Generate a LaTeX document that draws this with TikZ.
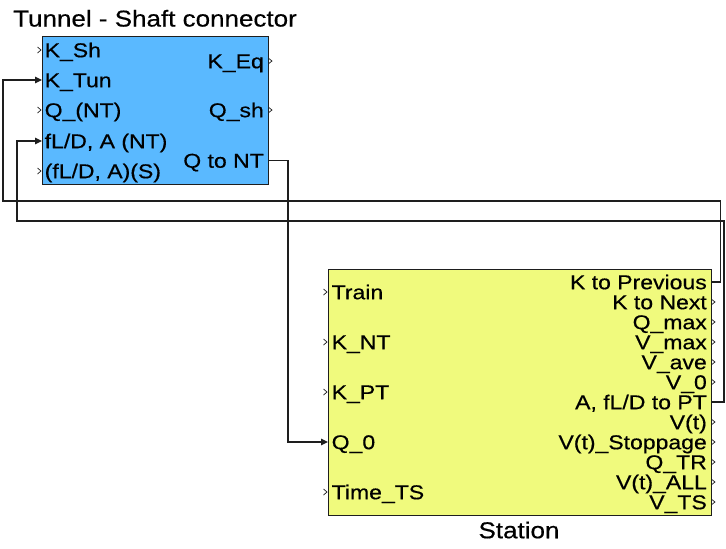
\documentclass[tikz,border=0pt]{standalone}
\usepackage{fontspec}
\setmainfont{Liberation Sans}
\newfontfamily\portfont[FakeStretch=1.15,FakeBold=0.5]{Liberation Sans}
\newfontfamily\namefont[FakeStretch=1.13,FakeBold=0.5]{Liberation Sans}
\usetikzlibrary{arrows.meta,calc}
\definecolor{blockblue}{RGB}{90,185,255}
\definecolor{blockyellow}{RGB}{240,250,125}
\definecolor{wire}{RGB}{30,30,30}
\begin{document}
\begin{tikzpicture}[x=1pt,y=-1pt,
  blockbox/.style={draw=wire, line width=1.3pt, inner sep=0pt, anchor=north west},
  plabel/.style={font=\portfont\fontsize{20}{24}\selectfont, inner sep=0pt, text height=14.4pt, text depth=0pt},
  nlabel/.style={font=\namefont\fontsize{23}{27}\selectfont, inner sep=0pt, text height=16.5pt, text depth=0pt},
  wireline/.style={draw=wire, line width=1.3pt},
  feed/.style={wireline, -{Triangle[length=7pt,width=6.5pt]}},
  openport/.style={draw=wire, line width=0.7pt}
]
\fill[white] (0,0) rectangle (726,549);
\path[use as bounding box] (0,0) rectangle (726,549);

% ---------- Tunnel - Shaft connector ----------
\node[blockbox, fill=blockblue, minimum width=226pt, minimum height=148pt] (tsc) at (42,36) {};
\node[nlabel] (tsctitle) at (155,18.3) {Tunnel - Shaft connector};

\coordinate (tscKSh)  at (42,50);
\coordinate (tscKTun) at (42,80);
\coordinate (tscQNT)  at (42,110);
\coordinate (tscfLD)  at (42,141);
\coordinate (tscfLDS) at (42,171);
\coordinate (tscKEq)  at (268,61);
\coordinate (tscQsh)  at (268,110);
\coordinate (tscQtoNT) at (268,160.5);

\node[plabel, anchor=west] (lKSh)  at (44.5,50)  {K\_Sh};
\node[plabel, anchor=west] (lKTun) at (44.5,80)  {K\_Tun};
\node[plabel, anchor=west] (lQNT)  at (44.5,110) {Q\_(NT)};
\node[plabel, anchor=west] (lfLD)  at (44.5,141) {fL/D, A (NT)};
\node[plabel, anchor=west] (lfLDS) at (44.5,171) {(fL/D, A)(S)};
\node[plabel, anchor=east] (lKEq)  at (264,61)   {K\_Eq};
\node[plabel, anchor=east] (lQsh)  at (264,110)  {Q\_sh};
\node[plabel, anchor=east] (lQtoNT) at (264,160.5) {Q to NT};

\foreach \p in {tscKSh,tscQNT,tscfLDS}
  \draw[openport] ($(\p)+(-4.5,-3)$) -- ($(\p)+(-1,0)$) -- ($(\p)+(-4.5,3)$);
\foreach \p in {tscKEq,tscQsh}
  \draw[openport] ($(\p)+(0.8,-2.5)$) -- ($(\p)+(4,0)$) -- ($(\p)+(0.8,2.5)$);

% ---------- Station ----------
\node[blockbox, fill=blockyellow, minimum width=383pt, minimum height=246pt] (st) at (328,269) {};
\node[nlabel] (sttitle) at (519,530) {Station};

\foreach \lab [count=\i from 0] in {Train, K\_NT, K\_PT, Q\_0, Time\_TS} {
  \coordinate (stin\i) at (328,{292+50*\i});
  \node[plabel, anchor=west] (stinl\i) at (331.5,{292+50*\i}) {\lab};
}
\foreach \lab [count=\i from 0] in {K to Previous, K to Next, Q\_max, V\_max, V\_ave, V\_0, {A, fL/D to PT}, V(t), V(t)\_Stoppage, Q\_TR, V(t)\_ALL, V\_TS} {
  \coordinate (stout\i) at (711,{282+20*\i});
  \node[plabel, anchor=east] (stoutl\i) at (707,{282+20*\i}) {\lab};
}
\foreach \i in {0,1,2,4}
  \draw[openport] ($(stin\i)+(-4.5,-3)$) -- ($(stin\i)+(-1,0)$) -- ($(stin\i)+(-4.5,3)$);
\foreach \i in {1,2,3,4,5,7,8,9,10,11}
  \draw[openport] ($(stout\i)+(0.8,-2.5)$) -- ($(stout\i)+(4,0)$) -- ($(stout\i)+(0.8,2.5)$);

% ---------- Connectors ----------
\draw[feed] (tscQtoNT) -- (288,160.5) -- (288,442) -- (stin3);
\draw[feed] (stout0) -- (720.5,282) -- (720.5,201) -- (3,201) -- (3,80) -- (tscKTun);
\draw[feed] (stout6) -- (724,402) -- (724,221) -- (17,221) -- (17,141) -- (tscfLD);
\end{tikzpicture}
\end{document}
